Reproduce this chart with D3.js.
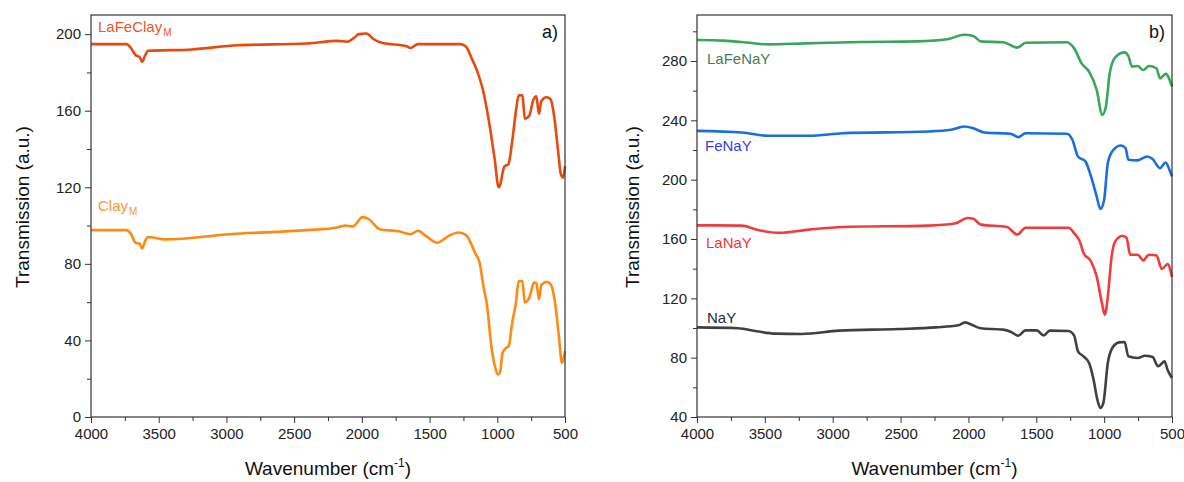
<!DOCTYPE html>
<html>
<head>
<meta charset="utf-8">
<script src="https://cdn.jsdelivr.net/npm/d3@7"></script>
<style>
  body { margin: 0; background: #fff; }
  svg { display: block; font-family: "Liberation Sans", Arial, sans-serif; }
</style>
</head>
<body>
<div id="chart"></div>
<script>
const width = 1184;
const height = 482;

// ---- panel a) data: [wavenumber, transmission]
const laFeClayM = [
    [4000, 194.8], [3737, 194.8], [3708, 193], [3670, 189], [3640, 188], [3623, 185.5], [3600, 189],
    [3580, 191.3], [3255, 192], [2915, 194.2], [2406, 195.1], [2180, 196.5], [2110, 196], [2050, 198.5], [2023, 200],
    [1966, 200.3], [1910, 197.2], [1853, 195.5], [1670, 193.7], [1641, 192.8], [1585, 194.8],
    [1273, 194.8], [1230, 193.4], [1188, 187.2], [1146, 180.2], [1110, 172], [1075, 160], [1047, 148],
    [1018, 134], [990, 120], [975, 122], [960, 128], [946, 131], [918, 132], [890, 144], [862, 160],
    [842, 168], [814, 168], [797, 155.8], [763, 157.5], [735, 165.4], [712, 167.5], [692, 158.4],
    [675, 165], [636, 167], [607, 166], [579, 156.6], [551, 139], [531, 127], [514, 125], [500, 131]
];
const clayM = [
    [4000, 97.6], [3737, 97.6], [3708, 96], [3670, 91], [3640, 90.5], [3623, 88], [3600, 92],
    [3580, 94], [3450, 92.8], [2972, 95.5], [2406, 97.6], [2180, 99], [2120, 100], [2066, 99.5], [1995, 104.4],
    [1952, 103.5], [1867, 98], [1726, 97], [1641, 95.5], [1585, 97.3], [1528, 94.6], [1443, 91],
    [1358, 94.6], [1287, 96.4], [1230, 95], [1160, 85], [1131, 80.8], [1103, 68.5], [1075, 58],
    [1047, 38.8], [1018, 26.6], [995, 22.2], [978, 24], [961, 33.6], [933, 36.2], [915, 37],
    [890, 49.3], [862, 59.8], [842, 71], [814, 71], [797, 59.8], [763, 62.4], [729, 70.3],
    [712, 70], [692, 61.5], [675, 69], [636, 70.6], [607, 69.4], [570, 58], [543, 40.6],
    [523, 28.3], [508, 31], [500, 34.4]
];

// ---- panel b) data
const laFeNaY = [
    [4000, 294.1], [3807, 293.7], [3615, 292.3], [3477, 291.2], [3202, 291.9], [2789, 292.8],
    [2376, 293.2], [2156, 294.6], [2032, 297.7], [1964, 296.8], [1909, 293.2], [1744, 292.6],
    [1639, 289], [1579, 292.3], [1276, 292.6], [1221, 288.5], [1166, 278.4], [1111, 272.8],
    [1055, 260.5], [1014, 243.7], [987, 249.3], [959, 271.7], [918, 282.5], [849, 285.8],
    [822, 283.4], [794, 276.2], [753, 276.6], [712, 273.9], [670, 276.6], [615, 275.1],
    [588, 268.3], [547, 271.3], [500, 262.7]
];
const feNaY = [
    [4000, 232.9], [3670, 231.8], [3477, 229.6], [3174, 229.6], [2927, 231.3], [2294, 232.5],
    [2129, 233.6], [2032, 235.8], [1964, 234.6], [1881, 231.8], [1689, 230.9], [1634, 228.7],
    [1579, 231.3], [1276, 230.9], [1234, 226.9], [1193, 215.6], [1138, 212.3], [1097, 202.2],
    [1055, 188.7], [1028, 180.2], [1000, 186.5], [973, 211.2], [932, 220.1], [877, 223],
    [842, 221.3], [822, 213.4], [753, 213], [684, 215.6], [643, 213.9], [588, 207.8],
    [547, 211.6], [519, 206.7], [500, 202.2]
];
const laNaY = [
    [4000, 169.2], [3670, 169], [3560, 166.3], [3395, 164.1], [3174, 166.3], [2927, 168.1],
    [2294, 169], [2101, 170.4], [2005, 174.2], [1964, 173.7], [1909, 169.7], [1717, 168.1],
    [1639, 163], [1579, 167.6], [1262, 167.6], [1221, 164], [1180, 158.4], [1152, 150.6],
    [1097, 145], [1055, 134.8], [1014, 115.7], [995, 109], [973, 121.3], [945, 148.3],
    [918, 158.4], [863, 162.2], [835, 160.7], [808, 149.4], [753, 149.4], [712, 145.6],
    [670, 149.4], [615, 148.8], [574, 139.8], [533, 143.1], [500, 134.4]
];
const naY = [
    [4000, 100.4], [3697, 99.8], [3560, 97.8], [3422, 96.2], [3229, 96], [2954, 98.2],
    [2514, 99.3], [2239, 100.4], [2074, 101.8], [2024, 103.8], [1977, 102.2], [1909, 99.8],
    [1744, 98.9], [1689, 97.5], [1634, 94.8], [1579, 98.4], [1496, 98.4], [1447, 95],
    [1400, 98.2], [1262, 98], [1221, 94.8], [1193, 84.3], [1152, 80.9], [1111, 76.4],
    [1078, 65.2], [1050, 51.7], [1028, 46.1], [1006, 49.4], [973, 76.4], [940, 86.5],
    [890, 90.3], [849, 90.6], [822, 80.9], [753, 79.8], [698, 81.3], [643, 80.4],
    [602, 74.2], [555, 77.5], [533, 71.9], [500, 66.3]
];

const xTicks = [4000, 3500, 3000, 2500, 2000, 1500, 1000, 500];
const yTicksA = [0, 40, 80, 120, 160, 200];
const yTicksB = [40, 80, 120, 160, 200, 240, 280];

const panels = [
    {
        left: 91, right: 565, top: 15, bottom: 417, yDomain: [0, 210],
        yTicks: yTicksA, tag: "a)", titleX: 29,
        series: [
            { name: "LaFeClay", sub: "M", data: laFeClayM, color: "#e8490f", text: "#ee5424", lx: 98, ly: 32 },
            { name: "Clay", sub: "M", data: clayM, color: "#ff8a12", text: "#ff9430", lx: 98, ly: 211 }
        ]
    },
    {
        left: 697, right: 1172, top: 15, bottom: 417, yDomain: [40, 311],
        yTicks: yTicksB, tag: "b)", titleX: 639,
        series: [
            { name: "LaFeNaY", data: laFeNaY, color: "#3aa65c", text: "#4a7a55", lx: 707, ly: 64 },
            { name: "FeNaY", data: feNaY, color: "#1a6fe0", text: "#3340e8", lx: 705, ly: 151 },
            { name: "LaNaY", data: laNaY, color: "#f03c3c", text: "#ee3838", lx: 706, ly: 248 },
            { name: "NaY", data: naY, color: "#404040", text: "#2a2a3a", lx: 707, ly: 323 }
        ]
    }
];

const svg = d3.select("#chart")
    .append("svg")
    .attr("width", width)
    .attr("height", height)
    .attr("viewBox", [0, 0, width, height]);

const styleTicks = g => {
    g.select(".domain").remove();
    g.selectAll("line").attr("stroke", "#333");
    g.selectAll("text").attr("font-size", 15).attr("fill", "#222")
        .attr("font-family", "Liberation Sans, Arial, sans-serif");
};

panels.forEach(p => {
    const x = d3.scaleLinear().domain([4000, 500]).range([p.left, p.right]);
    const y = d3.scaleLinear().domain(p.yDomain).range([p.bottom, p.top]);

    const yMinor = d3.range(p.yTicks[0] + 20, p.yDomain[1], 40);
    const xMinor = d3.range(3750, 500, -500);

    // minor ticks
    svg.append("g")
        .attr("transform", `translate(0,${p.bottom})`)
        .call(d3.axisBottom(x).tickValues(xMinor).tickSize(4).tickFormat(""))
        .call(styleTicks);
    svg.append("g")
        .attr("transform", `translate(${p.left},0)`)
        .call(d3.axisLeft(y).tickValues(yMinor).tickSize(4).tickFormat(""))
        .call(styleTicks);

    // major axes
    svg.append("g")
        .attr("transform", `translate(0,${p.bottom})`)
        .call(d3.axisBottom(x).tickValues(xTicks).tickSize(6).tickSizeOuter(0)
            .tickPadding(5).tickFormat(d3.format("d")))
        .call(styleTicks);
    svg.append("g")
        .attr("transform", `translate(${p.left},0)`)
        .call(d3.axisLeft(y).tickValues(p.yTicks).tickSize(6).tickSizeOuter(0)
            .tickPadding(4).tickFormat(d3.format("d")))
        .call(styleTicks);

    // lines
    const line = d3.line()
        .x(d => x(d[0]))
        .y(d => y(d[1]))
        .curve(d3.curveMonotoneX);

    svg.append("g")
        .selectAll("path")
        .data(p.series)
        .join("path")
        .attr("fill", "none")
        .attr("stroke", d => d.color)
        .attr("stroke-width", 2.6)
        .attr("stroke-linejoin", "round")
        .attr("d", d => line(d.data));

    // frame
    svg.append("rect")
        .attr("x", p.left).attr("y", p.top)
        .attr("width", p.right - p.left).attr("height", p.bottom - p.top)
        .attr("fill", "none").attr("stroke", "#333").attr("stroke-width", 1.2);

    // series labels
    p.series.forEach(s => {
        const t = svg.append("text")
            .attr("x", s.lx).attr("y", s.ly)
            .attr("font-size", 15)
            .attr("fill", s.text || s.color)
            .text(s.name);
        if (s.sub) {
            t.append("tspan").attr("dx", 1).attr("dy", 4).attr("font-size", 10).text(s.sub);
        }
    });

    svg.append("text")
        .attr("x", p.right - 7).attr("y", 38)
        .attr("text-anchor", "end")
        .attr("font-size", 18)
        .attr("fill", "#111")
        .text(p.tag);

    // axis titles
    const xt = svg.append("text")
        .attr("x", (p.left + p.right) / 2).attr("y", 475)
        .attr("text-anchor", "middle")
        .attr("font-size", 19)
        .attr("fill", "#111")
        .text("Wavenumber (cm");
    xt.append("tspan").attr("dy", -8).attr("font-size", 12).text("-1");
    xt.append("tspan").attr("dy", 8).text(")");

    svg.append("text")
        .attr("transform", `translate(${p.titleX},207) rotate(-90)`)
        .attr("text-anchor", "middle")
        .attr("font-size", 19)
        .attr("fill", "#111")
        .text("Transmission (a.u.)");
});
</script>
</body>
</html>
